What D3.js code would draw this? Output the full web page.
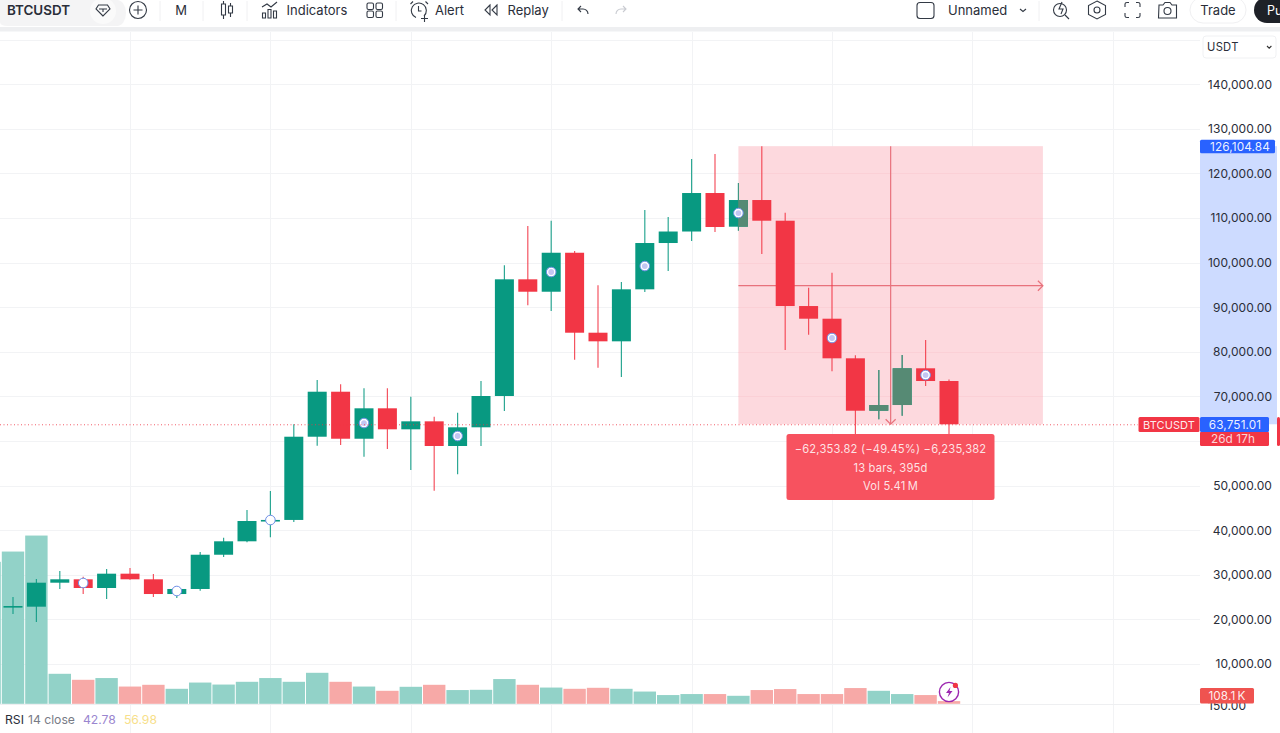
<!DOCTYPE html>
<html><head><meta charset="utf-8">
<style>
html,body{margin:0;padding:0;background:#fff;overflow:hidden}
svg{display:block}
text{font-family:Inter,"Noto Sans",Roboto,sans-serif}
</style>
<script src="https://cdn.jsdelivr.net/npm/d3@7/dist/d3.min.js"></script>
</head><body><svg id="c" width="1280" height="733"></svg>
<script>
const opens=[22890,22850,28230,28990,27040,30250,28990,25690,26820,34500,37510,42060,42300,60960,71050,60510,67330,62620,64410,58880,63070,70090,96250,93470,102210,84280,82350,94010,104390,106970,115600,108050,114030,109390,90260,87420,78540,66790,68070,76300,73450];
const highs=[25020,29060,30850,29570,31300,31520,30180,27260,35110,38320,44530,48790,63740,73670,72710,71810,71810,69930,65440,66340,73450,99390,108200,109390,102600,94900,95640,111790,110220,123220,124340,117840,126105,111180,94370,97730,79210,75910,79280,82640,73790];
const lows=[21210,19420,26820,25690,24570,28900,25020,24800,26430,33990,37300,38410,41840,58940,59100,56480,58200,53490,48850,52530,58880,66720,90420,89140,78220,76430,74350,93400,98110,104840,106850,107150,101920,80400,83830,75620,61570,64860,65670,72330,61120];
const closes=[23000,28230,28990,27040,30250,28990,25690,26820,34500,37510,42060,42300,60960,71050,60510,67330,62620,64410,58880,63070,70090,96250,93470,102210,84280,82350,94010,104390,106970,115600,107980,114030,109390,90260,87420,78540,66790,68070,76300,73450,63751];
// volume in thousands, first bar belongs to the candle just off the left edge
const volumes=[5680,6090,6730,1200,960,1030,690,760,600,850,770,880,1030,880,1240,880,690,520,680,760,550,560,990,760,650,600,640,600,490,350,390,390,320,550,590,390,390,630,520,390,350,108.1];
const volumeUp=[1,1,1,1,0,1,0,0,1,1,1,1,1,1,1,0,1,0,1,0,1,1,1,0,1,0,0,1,1,1,1,0,1,0,0,0,0,0,1,1,0,0];
const priceTicks=[10000,20000,30000,40000,50000,60000,70000,80000,90000,100000,110000,120000,130000,140000,150000];
const priceLabels=[10000,20000,30000,40000,50000,70000,80000,90000,100000,110000,120000,130000,140000];
const gridBars=[5,11,17,23,29,35,41,47];
const markerBars=[3,7,11,15,19,23,27,31,35,39];
const markerPrices=[28160,26370,42280,64030,61120,97890,99230,111110,83090,74790];
const measureHigh=126104.84, lastPrice=63751.01;
const measureFromBar=31, measureToBar=44;
const GREEN="#089981",RED="#f23645",VG="#92d2c8",VR="#f7a9a7",MUTED="#568a74";

const svg=d3.select("#c");
const y=d3.scaleLinear().domain([10000,140000]).range([664,84.2]);
const x=d3.scaleLinear().domain([0,40]).range([13,949]);
const yV=d3.scaleLinear().domain([0,1000]).range([703.8,678.8]);
const bw=19;

// grid
const grid=svg.append("g").attr("stroke","#f2f3f5").attr("stroke-width",1);
grid.selectAll(".h").data(priceTicks).join("line").attr("x1",0).attr("x2",1200)
  .attr("y1",d=>Math.round(y(d))+.5).attr("y2",d=>Math.round(y(d))+.5);
grid.selectAll(".v").data(gridBars).join("line").attr("y1",32).attr("y2",733)
  .attr("x1",d=>Math.round(x(d))+.5).attr("x2",d=>Math.round(x(d))+.5);

// volume
svg.append("g").selectAll("rect").data(volumes).join("rect")
  .attr("x",(d,i)=>x(i-1)-11.2).attr("width",22.4)
  .attr("y",d=>yV(d)).attr("height",d=>yV(0)-yV(d))
  .attr("fill",(d,i)=>volumeUp[i]?VG:VR);
svg.append("line").attr("x1",0).attr("x2",1200).attr("y1",704.5).attr("y2",704.5).attr("stroke","#eeeff1");

// measure overlay, behind the candles
const mx0=x(measureFromBar),mx1=x(measureToBar)+.3,my0=y(measureHigh),my1=y(lastPrice);
const mxC=(mx0+mx1)/2,myC=(my0+my1)/2+.5;
svg.append("rect").attr("x",mx0).attr("y",my0).attr("width",mx1-mx0).attr("height",my1-my0).attr("fill","#fdd9de");
// grid shows faintly through the overlay
const mgrid=svg.append("g").attr("stroke","#fbd0d6").attr("stroke-width",1);
mgrid.selectAll("line.h").data(priceTicks.filter(d=>y(d)>my0&&y(d)<my1)).join("line").attr("x1",mx0).attr("x2",mx1)
  .attr("y1",d=>Math.round(y(d))+.5).attr("y2",d=>Math.round(y(d))+.5);
const ov=svg.append("g").attr("stroke","#e8727c").attr("stroke-width",1.2).attr("fill","none");
ov.append("line").attr("x1",mx0).attr("x2",mx1).attr("y1",myC).attr("y2",myC);
ov.append("line").attr("x1",mxC).attr("x2",mxC).attr("y1",my0).attr("y2",my1);
ov.append("path").attr("d",`M${mx1-5} ${myC-5}L${mx1} ${myC}L${mx1-5} ${myC+5}`);
ov.append("path").attr("d",`M${mxC-5} ${my1-5}L${mxC} ${my1}L${mxC+5} ${my1-5}`);

// candles
const idx=d3.range(opens.length);
const col=i=>closes[i]>=opens[i]?GREEN:RED;
function drawCandles(g,list,colour){
  g.selectAll("line").data(list).join("line")
    .attr("x1",i=>x(i)).attr("x2",i=>x(i)).attr("y1",i=>y(highs[i])).attr("y2",i=>y(lows[i]))
    .attr("stroke",colour).attr("stroke-width",1.2).attr("stroke-opacity",.85);
  g.selectAll("rect").data(list).join("rect")
    .attr("x",i=>x(i)-bw/2).attr("width",bw)
    .attr("y",i=>y(Math.max(opens[i],closes[i])))
    .attr("height",i=>Math.max(1.6,Math.abs(y(opens[i])-y(closes[i]))))
    .attr("fill",colour);
}
drawCandles(svg.append("g"),idx,col);
svg.append("clipPath").attr("id","mclip").append("rect").attr("x",mx0).attr("y",my0).attr("width",mx1-mx0).attr("height",my1-my0);
drawCandles(svg.append("g").attr("clip-path","url(#mclip)"),idx.filter(i=>closes[i]>=opens[i]&&i>=measureFromBar),MUTED);

// event markers
const mg=svg.append("g").selectAll("g").data(markerBars).join("g")
  .attr("transform",(d,i)=>`translate(${x(d)},${y(markerPrices[i])})`);
mg.append("circle").attr("r",4.8).attr("fill","#fff").attr("stroke","#6f8fe6").attr("stroke-width",1);
mg.filter((d,i)=>i>2).append("circle").attr("r",2.9).attr("fill","#c3c6f2");

// last price line
svg.append("line").attr("x1",0).attr("x2",1138).attr("y1",y(lastPrice)+.5).attr("y2",y(lastPrice)+.5)
  .attr("stroke",RED).attr("stroke-width",1).attr("stroke-dasharray","1 2.5").attr("opacity",.8);

// tooltip
const tip=svg.append("g");
tip.append("rect").attr("x",786.5).attr("y",434).attr("width",208).attr("height",66).attr("rx",2.5).attr("fill","#f7525f");
const tipLines=["\u221262,353.82 (\u221249.45%) \u22126,235,382","13 bars, 395d","Vol 5.41\u202fM"];
tip.selectAll("text").data(tipLines).join("text").attr("x",890.5).attr("y",(d,i)=>453+i*18.7)
  .attr("text-anchor","middle").attr("font-size",11.2).attr("letter-spacing",.18).attr("fill","rgba(255,255,255,.85)").text(d=>d);

// price axis
svg.append("rect").attr("x",1200).attr("y",my0).attr("width",77).attr("height",my1-my0).attr("fill","#cddbff");
const axis=d3.axisRight(y).tickValues(priceLabels).tickSize(0).tickPadding(0).tickFormat(d3.format(",.2f"));
const ag=svg.append("g").attr("transform","translate(1272,0)").call(axis);
ag.select(".domain").remove();
ag.selectAll("text").attr("text-anchor","end").attr("font-size",12).attr("letter-spacing",.05).attr("fill","#2a2e39").attr("font-family","Inter");
svg.append("text").attr("x",1208).attr("y",y(10000)+45.5).attr("font-size",12).attr("letter-spacing",.05).attr("fill","#2a2e39").text("150.00");

function tag(xx,yy,w,h,fill,label,lx,fs,op){
  svg.append("rect").attr("x",xx).attr("y",yy).attr("width",w).attr("height",h).attr("fill",fill).attr("rx",1.5);
  if(label) svg.append("text").attr("x",lx).attr("y",yy+h/2+4.2).attr("text-anchor","middle")
    .attr("font-size",fs||11.8).attr("letter-spacing",.1).attr("fill",op||"rgba(255,255,255,.92)").text(label);
}
tag(1200,y(measureHigh)-6.5,75,13.5,"#2962ff",d3.format(",.2f")(measureHigh),1240);
tag(1200,431.5,69,14.5,RED,"26d 17h",1233,11.8,"rgba(255,255,255,.8)");
tag(1200,417,69,15,"#2962ff",d3.format(",.2f")(lastPrice),1235);
tag(1138.5,417,61,15,RED,"BTCUSDT",1169,11);
tag(1277,417,3,29,RED);
tag(1200,688,54,15.5,"#ef5350","108.1\u202fK",1227);

// currency box
svg.append("rect").attr("x",1203).attr("y",36).attr("width",73).attr("height",22).attr("rx",3).attr("fill","#fff").attr("stroke","#f0f1f3");
svg.append("text").attr("x",1207).attr("y",51).attr("font-size",11.2).attr("letter-spacing",.3).attr("fill","#2a2e39").text("USDT");
svg.append("path").attr("d","M1267 46l2.2 2.2 2.2-2.2").attr("fill","none").attr("stroke","#333").attr("stroke-width",1.1);

// bottom legend
const leg=svg.append("text").attr("x",5).attr("y",724).attr("font-size",12.2);
leg.append("tspan").attr("fill","#2a2e39").text("RSI");
leg.append("tspan").attr("fill","#787b86").attr("dx",4).text("14 close");
leg.append("tspan").attr("fill","#9a86cf").attr("dx",8).text("42.78");
leg.append("tspan").attr("fill","#f7e08a").attr("dx",8).text("56.98");

// lightning badge
const lb=svg.append("g").attr("transform","translate(949,692)");
lb.append("circle").attr("r",9.6).attr("fill","#fff").attr("fill-opacity",.6).attr("stroke","#9c27b0").attr("stroke-width",1.4);
lb.append("path").attr("d","M1.5-5L-3 1h3l-1.5 4.5L3.5-1H.5z").attr("fill","#9c27b0");
lb.append("circle").attr("cx",6.4).attr("cy",-6.6).attr("r",2.6).attr("fill",RED);

// toolbar
const tb=svg.append("g");
tb.append("rect").attr("width",1280).attr("height",27).attr("fill","#fff");
tb.append("rect").attr("y",27).attr("width",1280).attr("height",4.5).attr("fill","#eeeff1");
tb.append("path").attr("d","M0 0H117a9 13 0 0 1 0 26H8Q0 26 0 22Z").attr("fill","#f4f4f5");
tb.append("circle").attr("cx",103).attr("cy",11).attr("r",13).attr("fill","#fafafa");
const T=(s,xx,o={})=>tb.append("text").attr("x",xx).attr("y",o.y||14.5).attr("font-size",o.s||13).attr("font-weight",o.w||400).attr("fill",o.c||"#2a2e39").attr("text-anchor",o.a||"start").text(s);
T("BTCUSDT",7,{w:600,s:13.4});
T("M",181,{a:"middle"});
T("Indicators",286.5);
T("Alert",435);
T("Replay",507.5);
T("Unnamed",948);
T("Trade",1218,{a:"middle"});
const ic=tb.append("g").attr("fill","none").attr("stroke","#333a45").attr("stroke-width",1.1);
ic.append("path").attr("d","M103 16l-7-7 2.500-4h9L110 9zM99 9h8M103 9v3");
ic.append("circle").attr("cx",138).attr("cy",10).attr("r",8.5);
ic.append("path").attr("d","M133.5 10h9M138 5.5v9");
ic.append("path").attr("d","M221.5 4h4v11h-4zM223.5 1v3M223.5 15v4M228.5 6h4v7h-4zM230.5 3v3M230.5 13v4");
ic.append("path").attr("d","M262.5 18v-5h3v5zM268 18V9.5h3V18zM273.5 18v-7h3v7zM262 7l5-3 4 3 6-5");
ic.selectAll("rect.g").data([[367,3],[376,3],[367,11],[376,11]]).join("rect").attr("x",d=>d[0]).attr("y",d=>d[1]).attr("width",6.5).attr("height",6.5).attr("rx",1.5);
ic.append("path").attr("d","M424 16a7.5 7.5 0 1 0-8 1.5M418.5 6v5h3M424.5 15v7M421 18.5h7M410.5 4l2.5-2.5M425.5 1.5L428 4");
ic.append("path").attr("d","M490 5l-5 5 5 5zM497 5l-5 5 5 5z");
ic.append("path").attr("d","M581 6l-3 3 3 3M578 9h5a5 5 0 0 1 5 5");
ic.append("path").attr("d","M623 6l3 3-3 3M626 9h-5a5 5 0 0 0-5 5").attr("stroke","#c9cbd1");
ic.append("rect").attr("x",917).attr("y",2.5).attr("width",17).attr("height",16).attr("rx",3);
ic.append("path").attr("d","M1020 9l3 2.5 3-2.5");
ic.append("circle").attr("cx",1060).attr("cy",10).attr("r",6.5);
ic.append("path").attr("d","M1065 15l4 4M1062 2l-3 7h4l-2 5");
ic.append("path").attr("d","M1097 1l8.5 4.5v9L1097 19l-8.5-4.5v-9z");
ic.append("circle").attr("cx",1097).attr("cy",10).attr("r",3);
ic.append("path").attr("d","M1125 7V4q0-1.500 2-1.500h2M1136 2.500h2q2 0 2 1.500v3M1140 13v3q0 1.500-2 1.500h-2M1129 17.500h-2q-2 0-2-1.500v-3");
ic.append("path").attr("d","M1159 5h4l2-2.500h5L1172 5h4.500v13h-18z");
ic.append("circle").attr("cx",1167.500).attr("cy",11).attr("r",3.500);
tb.selectAll("line.s").data([160,203,247,396,562,1039]).join("line").attr("x1",d=>d).attr("x2",d=>d).attr("y1",1).attr("y2",21).attr("stroke","#f0f0f2");
tb.append("rect").attr("x",1190).attr("y",-3).attr("width",56).attr("height",26).attr("rx",13).attr("fill","none").attr("stroke","#f0f0f2");
tb.append("rect").attr("x",1254).attr("y",-3).attr("width",40).attr("height",26).attr("rx",13).attr("fill","#1e2128");
T("Pu",1267,{c:"#fff",s:12.5});
</script></body></html>
